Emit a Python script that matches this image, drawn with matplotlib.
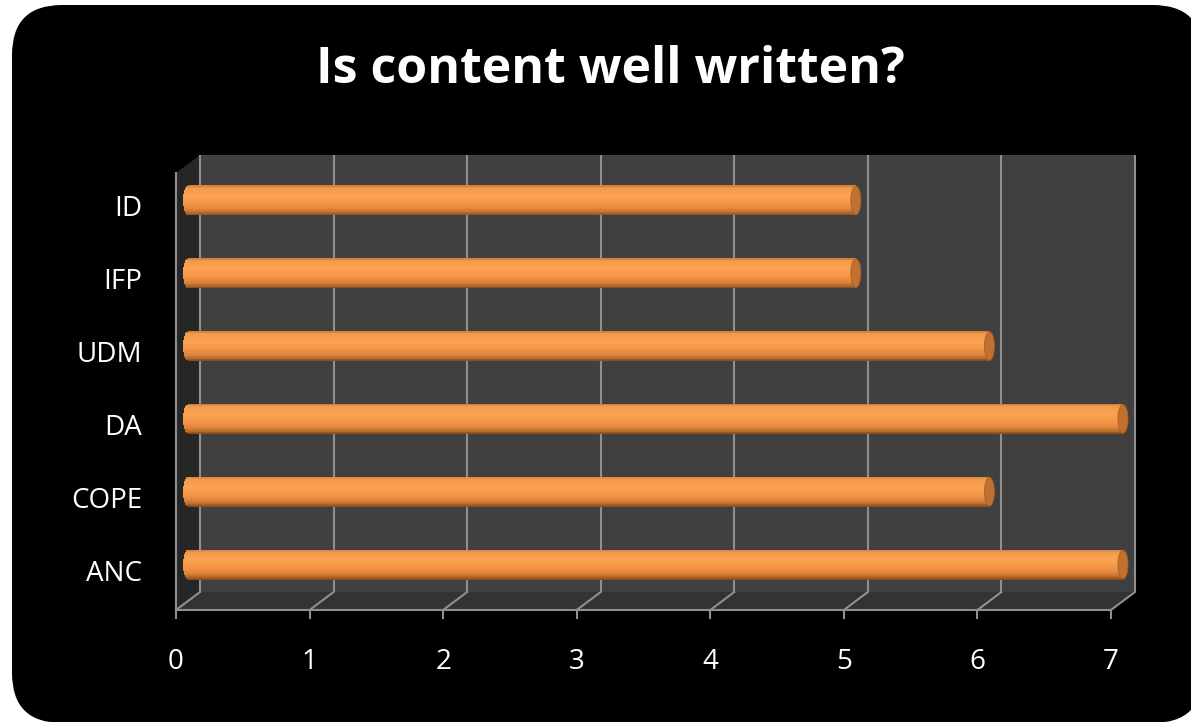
import numpy as np
import matplotlib
matplotlib.use("Agg")
import matplotlib.pyplot as plt
from matplotlib.patches import FancyBboxPatch, Polygon, Ellipse
from matplotlib.transforms import IdentityTransform, ScaledTranslation
from matplotlib.colors import LinearSegmentedColormap

# Survey answers per site
categories = ['ANC', 'COPE', 'DA', 'UDM', 'IFP', 'ID']
scores = [7, 6, 7, 6, 5, 5]
x_ticks = [0, 1, 2, 3, 4, 5, 6, 7]
title = 'Is content well written?'

W, H = 1191, 722
fig = plt.figure(figsize=(W / 100, H / 100), dpi=100)
fig.patch.set_facecolor('white')

# black rounded panel behind everything
panel = FancyBboxPatch((12, -1), 1191, 718, boxstyle='round,pad=0,rounding_size=50',
                       transform=IdentityTransform(), fc='black', ec='none', zorder=-5)
fig.add_artist(panel)

# back wall of the 3D box
ax = fig.add_axes([200 / W, (H - 592) / H, 935 / W, 437 / H])
ax.set_xlim(0, 7)
ax.set_ylim(-0.5, len(categories) - 0.5)
ax.set_facecolor('#404040')
for s in ax.spines.values():
    s.set_visible(False)
ax.set_xticks([])
ax.set_yticks([])

# depth offsets: bars sit halfway, labels/axis on the front face
mid = ax.transData + ScaledTranslation(-0.12, -0.09, fig.dpi_scale_trans)
front = ax.transData + ScaledTranslation(-0.24, -0.18, fig.dpi_scale_trans)

grid_c = '#8f8f8f'
ax.vlines(x_ticks, -0.5, len(categories) - 0.5, color=grid_c, lw=1.5, zorder=1, clip_on=False)

y0 = -0.5
y1 = len(categories) - 0.5
bl = ax.transData.transform((0, y0))
br = ax.transData.transform((7, y0))
tl = ax.transData.transform((0, y1))
fl = front.transform((0, y0))
fr = front.transform((7, y0))
ftl = front.transform((0, y1))

# floor and left side wall
floor = Polygon([bl, br, fr, fl], closed=True, transform=IdentityTransform(),
                fc='#333333', ec='none', zorder=-1)
side = Polygon([tl, bl, fl, ftl], closed=True, transform=IdentityTransform(),
               fc='#262626', ec='none', zorder=-1)
fig.add_artist(floor)
fig.add_artist(side)

edges = [
    ([fl[0], fr[0]], [fl[1], fr[1]]),      # front floor edge
    ([fl[0], ftl[0]], [fl[1], ftl[1]]),    # front left edge
]
for v in x_ticks:
    b = ax.transData.transform((v, y0))
    f = front.transform((v, y0))
    edges.append(([b[0], f[0]], [b[1], f[1]]))
    edges.append(([f[0], f[0]], [f[1], f[1] - 8]))
for xs, ys in edges:
    fig.add_artist(plt.Line2D(xs, ys, transform=IdentityTransform(), color=grid_c,
                              lw=1.5, zorder=-0.5))

# cylinder bars, shaded with thin horizontal strips
shade = LinearSegmentedColormap.from_list('cyl', [
    (0.0, '#D0803A'), (0.08, '#F39A4C'), (0.35, '#FAA352'), (0.6, '#F59646'),
    (0.8, '#DE853B'), (0.92, '#B96C2D'), (1.0, '#8A5020')])
bar_h = 0.4
cap = 5 / (935 / 7)
n = 40
s_vals = np.linspace(1, -1, n)
for i, v in enumerate(scores):
    for s in s_vals:
        left = -cap * np.sqrt(max(0.0, 1 - s * s))
        bars = ax.barh(i + s * bar_h / 2, v - left, left=left, height=bar_h / n * 1.3,
                       color=shade((1 - s) / 2), lw=0, zorder=3)
        for p in bars:
            p.set_transform(mid)
            p.set_clip_on(False)
    end = Ellipse((v, i), 2 * cap, bar_h * 0.98, fc='#C0702F', ec='#A75F26', lw=0.6,
                  transform=mid, zorder=4, clip_on=False)
    ax.add_patch(end)

# labels
lab_tr = front + ScaledTranslation(-0.34, 0, fig.dpi_scale_trans)
for i, c in enumerate(categories):
    ax.text(0, i, c, transform=lab_tr, ha='right', va='center', color='white',
            fontsize=20, family='Open Sans', clip_on=False)
tick_tr = front + ScaledTranslation(0, -0.52, fig.dpi_scale_trans)
for v in x_ticks:
    ax.text(v, y0, str(v), transform=tick_tr, ha='center', va='center', color='white',
            fontsize=20, family='Open Sans', clip_on=False)

fig.text(610 / W, 1 - 70 / H, title, ha='center', va='center', color='white',
         fontsize=36, fontweight='bold', family='Open Sans')

fig.savefig('out.png', dpi=100, facecolor='white')
